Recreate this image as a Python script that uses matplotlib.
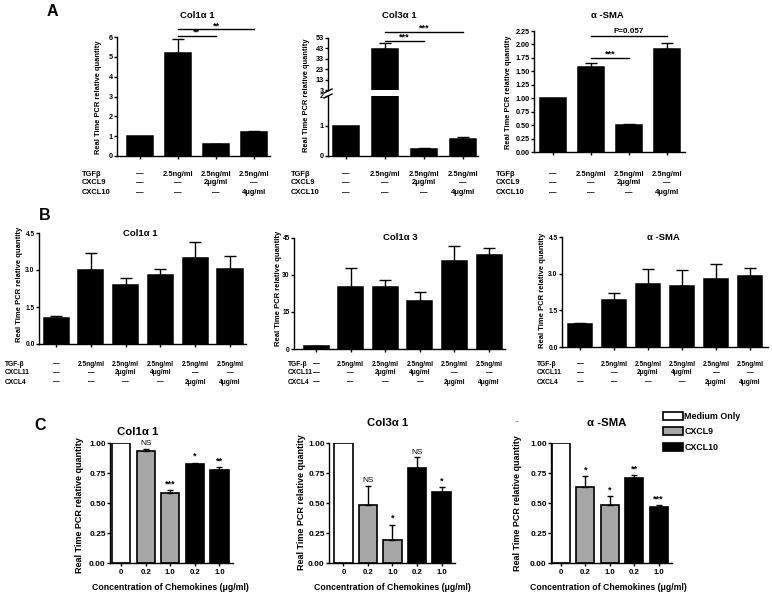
import numpy as np
import matplotlib
matplotlib.use('Agg')
import matplotlib.pyplot as plt
from matplotlib.ticker import FormatStrFormatter
from matplotlib.transforms import blended_transform_factory
from matplotlib.lines import Line2D

plt.rcParams['font.family'] = ['Liberation Sans', 'DejaVu Sans']
plt.rcParams['font.weight'] = 'bold'
plt.rcParams['axes.linewidth'] = 1.0

# ---------------- data ----------------
ylabel = 'Real Time PCR relative quantity'

# panel A
a_rows = ['TGFβ', 'CXCL9', 'CXCL10']
a_conds = [['—', '2.5ng/ml', '2.5ng/ml', '2.5ng/ml'],
           ['—', '—', '2μg/ml', '—'],
           ['—', '—', '—', '4μg/ml']]
a_titles = ['Col1α 1', 'Col3α 1', 'α -SMA']
a_col1 = [1.0, 5.2, 0.6, 1.22]
a_col1_err = [0, 0.7, 0.03, 0.05]
a_col3 = [1.0, 42.0, 0.25, 0.57]
a_col3_err = [0, 6.0, 0.03, 0.05]
a_sma = [1.0, 1.58, 0.5, 1.92]
a_sma_err = [0, 0.07, 0.02, 0.1]

# panel B
b_rows = ['TGF-β', 'CXCL11', 'CXCL4']
b_conds = [['—', '2.5ng/ml', '2.5ng/ml', '2.5ng/ml', '2.5ng/ml', '2.5ng/ml'],
           ['—', '—', '2μg/ml', '4μg/ml', '—', '—'],
           ['—', '—', '—', '—', '2μg/ml', '4μg/ml']]
b_titles = ['Col1α 1', 'Col1α 3', 'α -SMA']
b_col1 = [1.07, 3.0, 2.38, 2.78, 3.5, 3.03]
b_col1_err = [0.05, 0.7, 0.3, 0.28, 0.65, 0.55]
b_col3 = [1.2, 25.0, 25.2, 19.5, 35.5, 38.0]
b_col3_err = [0.1, 7.8, 2.9, 3.8, 6.3, 2.9]
b_sma = [0.96, 1.93, 2.58, 2.5, 2.8, 2.92]
b_sma_err = [0.03, 0.28, 0.62, 0.63, 0.6, 0.3]

# panel C
c_ticks = ['0', '0.2', '1.0', '0.2', '1.0']
c_groups = ['Medium Only', 'CXCL9', 'CXCL9', 'CXCL10', 'CXCL10']
c_titles = ['Col1α 1', 'Col3α 1', 'α -SMA']
c_col1 = [1.0, 0.93, 0.585, 0.825, 0.775]
c_col1_err = [0, 0.02, 0.02, 0.01, 0.025]
c_col1_sig = ['', 'NS', '***', '*', '**']
c_col3 = [1.0, 0.48, 0.19, 0.795, 0.59]
c_col3_err = [0, 0.16, 0.13, 0.085, 0.04]
c_col3_sig = ['', 'NS', '*', 'NS', '*']
c_sma = [1.0, 0.63, 0.48, 0.71, 0.465]
c_sma_err = [0, 0.095, 0.075, 0.02, 0.015]
c_sma_sig = ['', '*', '*', '**', '***']

group_colors = {'Medium Only': 'white', 'CXCL9': '#a6a6a6', 'CXCL10': 'black'}

# ---------------- helpers ----------------
W, H = 772, 596
fig = plt.figure(figsize=(W / 100, H / 100), dpi=100)


def px_axes(l, t, r, b):
    return fig.add_axes([l / W, 1 - b / H, (r - l) / W, (b - t) / H])


def ftext(x, y, s, **kw):
    fig.text(x / W, 1 - y / H, s, **kw)


def setup(ax, xlim, ylim, yticks, fmt, fs):
    for s in ['top', 'right']:
        ax.spines[s].set_visible(False)
    ax.set_xlim(xlim)
    ax.set_ylim(ylim)
    ax.set_yticks(yticks)
    ax.yaxis.set_major_formatter(FormatStrFormatter(fmt))
    ax.tick_params(direction='out', length=2.5, width=1, labelsize=fs, pad=0.6)


def draw_bars(ax, vals, errs, width, colors='black', capsize=4):
    x = np.arange(len(vals))
    vals = np.asarray(vals)
    errs = np.asarray(errs)
    ax.bar(x, vals, width, color=colors, edgecolor='black', linewidth=1.1)
    m = errs > 0
    ax.errorbar(x[m], vals[m], yerr=[np.zeros(m.sum()), errs[m]], fmt='none',
                ecolor='black', elinewidth=1, capsize=capsize, capthick=1)
    ax.set_xticks(x)
    ax.set_xticklabels([])
    return x


def cond_labels(ax, rows, conds, name_x, row_y, fs):
    tr = blended_transform_factory(ax.transData, fig.transFigure)
    for name, row, y in zip(rows, conds, row_y):
        ftext(name_x, y, name, fontsize=fs, va='center', ha='left')
        for i, s in enumerate(row):
            ax.text(i, 1 - y / H, s, transform=tr, ha='center', va='center',
                    fontsize=fs, clip_on=False)


def sig_line(ax, x1, x2, y, label, dy, fs=6.5):
    ax.plot([x1, x2], [y, y], color='black', lw=1, clip_on=False)
    ax.text((x1 + x2) / 2, y + dy, label, ha='center', va='bottom',
            fontsize=fs, clip_on=False)


# ---------------- panel A ----------------
ftext(52, 12, 'A', fontsize=11.5, ha='center', va='center')
a_row_y = [174, 183, 193]

ax = px_axes(117, 37, 270, 156)
draw_bars(ax, a_col1, a_col1_err, 0.68)
setup(ax, (-0.6, 3.42), (0, 6), range(0, 7), '%d', 5.2)
sig_line(ax, 1, 2, 6.05, '**', -0.05)
sig_line(ax, 1, 3, 6.4, '**', -0.05)
cond_labels(ax, a_rows, a_conds, 82, a_row_y, 5.4)
ftext(197, 15, a_titles[0], fontsize=6.8, ha='center', va='center')
ftext(98, 97, ylabel, fontsize=5.4, rotation=90, ha='center', va='center')

# broken axis for Col3
ax_lo = px_axes(328, 96, 478, 156)
draw_bars(ax_lo, a_col3, a_col3_err, 0.68)
setup(ax_lo, (-0.46, 3.38), (0, 2), [0, 1, 2], '%d', 5.2)
ax_hi = px_axes(328, 38, 478, 90)
draw_bars(ax_hi, a_col3, a_col3_err, 0.68)
setup(ax_hi, (-0.46, 3.38), (3, 53), [3, 13, 23, 33, 43, 53], '%d', 5.2)
ax_hi.spines['bottom'].set_visible(False)
ax_hi.tick_params(axis='x', length=0)
sig_line(ax_hi, 1, 2, 50.1, '***', -0.5)
sig_line(ax_hi, 1, 3, 58.8, '***', -0.5)
for yb in (91, 96):
    fig.add_artist(Line2D([324 / W, 332 / W], [1 - (yb + 2) / H, 1 - (yb - 2) / H],
                          color='black', lw=1))
cond_labels(ax_lo, a_rows, a_conds, 291, a_row_y, 5.4)
ftext(399, 15, a_titles[1], fontsize=6.8, ha='center', va='center')
ftext(307, 95, ylabel, fontsize=5.4, rotation=90, ha='center', va='center')

ax = px_axes(534, 31, 685, 152)
draw_bars(ax, a_sma, a_sma_err, 0.68)
setup(ax, (-0.5, 3.47), (0, 2.25), np.arange(0, 2.26, 0.25), '%.2f', 5.2)
sig_line(ax, 1, 2, 1.75, '***', -0.01)
sig_line(ax, 1, 3, 2.16, 'P=0.057', 0.01, fs=5.8)
cond_labels(ax, a_rows, a_conds, 496, a_row_y, 5.4)
ftext(607, 15, a_titles[2], fontsize=6.8, ha='center', va='center')
ftext(509, 92, ylabel, fontsize=5.4, rotation=90, ha='center', va='center')

# ---------------- panel B ----------------
ftext(45, 215, 'B', fontsize=11.5, ha='center', va='center')
b_row_y = [364, 373, 382]

ax = px_axes(39, 233, 246, 344)
draw_bars(ax, b_col1, b_col1_err, 0.72, capsize=4.5)
setup(ax, (-0.49, 5.46), (0, 4.5), [0, 1.5, 3.0, 4.5], '%.1f', 4.8)
cond_labels(ax, b_rows, b_conds, 5, b_row_y, 4.8)
ftext(140, 233, b_titles[0], fontsize=6.8, ha='center', va='center')
ftext(20, 284, ylabel, fontsize=5.5, rotation=90, ha='center', va='center')

ax = px_axes(294, 238, 505, 349)
draw_bars(ax, b_col3, b_col3_err, 0.72, capsize=4.5)
setup(ax, (-0.64, 5.46), (0, 45), [0, 15, 30, 45], '%d', 4.8)
cond_labels(ax, b_rows, b_conds, 288, b_row_y, 4.8)
ftext(400, 237, b_titles[1], fontsize=6.8, ha='center', va='center')
ftext(278, 288, ylabel, fontsize=5.5, rotation=90, ha='center', va='center')

ax = px_axes(562, 237, 768, 347)
draw_bars(ax, b_sma, b_sma_err, 0.72, capsize=4.5)
setup(ax, (-0.53, 5.53), (0, 4.5), [0, 1.5, 3.0, 4.5], '%.1f', 4.8)
cond_labels(ax, b_rows, b_conds, 537, b_row_y, 4.8)
ftext(663, 238, b_titles[2], fontsize=6.8, ha='center', va='center')
ftext(542, 290, ylabel, fontsize=5.5, rotation=90, ha='center', va='center')

# ---------------- panel C ----------------
ftext(40, 425, 'C', fontsize=11.5, ha='center', va='center')
c_sets = [
    (110, 233, -0.45, c_col1, c_col1_err, c_col1_sig, 138, 432, 80, 505, 170),
    (329, 455, -0.59, c_col3, c_col3_err, c_col3_sig, 388, 423, 302, 502, 392),
    (551, 672, -0.41, c_sma, c_sma_err, c_sma_sig, 607, 423, 518, 503, 608),
]
for k, (l, r, x0, vals, errs, sigs, tx, ty, yx, yy, xx) in enumerate(c_sets):
    ax = px_axes(l, 443, r, 563)
    x = np.arange(len(vals))
    for g in group_colors:
        idx = [i for i, gg in enumerate(c_groups) if gg == g]
        ax.bar(x[idx], np.asarray(vals)[idx], 0.74, color=group_colors[g],
               edgecolor='black', linewidth=1.2, label=g)
    e = np.asarray(errs)
    m = e > 0
    ax.errorbar(x[m], np.asarray(vals)[m], yerr=[np.zeros(m.sum()), e[m]], fmt='none',
                ecolor='black', elinewidth=1, capsize=2.5, capthick=1)
    setup(ax, (x0, 4.55), (0, 1.0), [0, 0.25, 0.5, 0.75, 1.0], '%.2f', 6)
    ax.set_xticks(x)
    ax.set_xticklabels(c_ticks, fontsize=5.6)
    ax.tick_params(axis='x', pad=2)
    for i, s in enumerate(sigs):
        if s:
            ax.text(i, vals[i] + errs[i] + 0.015, s, ha='center', va='bottom',
                    fontsize=6 if s == 'NS' else 6.5,
                    fontweight='normal' if s == 'NS' else 'bold', clip_on=False)
    ftext(tx, ty, c_titles[k], fontsize=8.2, ha='center', va='center')
    ftext(yx, yy, ylabel, fontsize=6.5, rotation=90, ha='center', va='center')
    ftext(xx, 587, 'Concentration of Chemokines (μg/ml)', fontsize=6.3,
          ha='center', va='center')
    if k == 2:
        ax.legend(loc='upper left', bbox_to_anchor=(659 / W, 1 - 408 / H),
                  bbox_transform=fig.transFigure, frameon=False, fontsize=6.4,
                  handlelength=2.3, handleheight=1.0, labelspacing=0.75,
                  handletextpad=0.15, borderaxespad=0)

ftext(517, 420, '.', fontsize=6, ha='center', va='center')

fig.savefig('out.png', dpi=100)
